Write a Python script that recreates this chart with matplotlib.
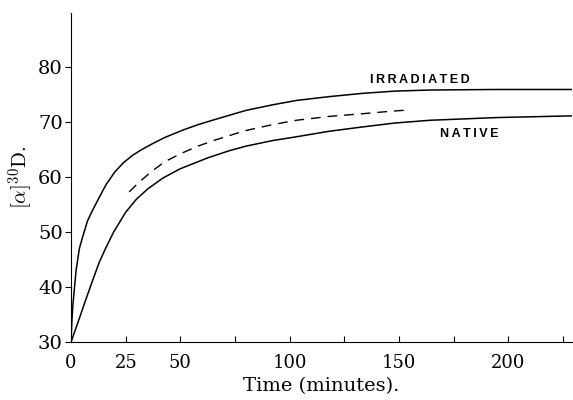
import matplotlib
matplotlib.use("Agg")
import matplotlib.pyplot as plt

plt.rcParams['mathtext.fontset'] = 'cm'
plt.rcParams['font.family'] = ['DejaVu Serif']

# readings
t_irr = [0, 0.4, 0.8, 1.5, 2.3, 3.8, 5.3, 7.5, 9.9, 12.9, 16, 20, 24, 28, 32, 37, 43, 51, 58,
         68, 80, 92, 103, 118, 133.5, 148, 164, 195, 229]
a_irr = [30, 34, 36.5, 39.6, 43.0, 47.0, 49.1, 52.0, 54.0, 56.3, 58.6, 60.9, 62.6, 63.9, 64.9,
         66.0, 67.2, 68.5, 69.5, 70.7, 72.1, 73.1, 73.9, 74.6, 75.2, 75.6, 75.8, 75.9, 75.9]

t_nat = [0, 3, 6.4, 9.5, 12.9, 16, 19.5, 25, 30, 35, 42, 50, 62.7, 72.6, 80, 92, 103, 118,
         133.5, 148, 164, 195, 229]
a_nat = [30, 33.4, 37.3, 40.8, 44.5, 47.2, 50.0, 53.6, 56.0, 57.8, 59.8, 61.5, 63.5, 64.8,
         65.6, 66.6, 67.3, 68.3, 69.1, 69.8, 70.3, 70.8, 71.1]

t_dash = [26.6, 31, 36.8, 43, 50.5, 58, 65.8, 79.5, 92, 103, 118, 133.5, 145, 155]
a_dash = [57.3, 59.0, 61.0, 62.8, 64.3, 65.6, 66.7, 68.4, 69.5, 70.3, 71.0, 71.5, 71.9, 72.2]

xticks = [0, 25, 50, 75, 100, 125, 150, 175, 200, 225]
xlabels = ['0', '25', '50', '', '100', '', '150', '', '200', '']
yticks = [30, 40, 50, 60, 70, 80]

fig = plt.figure(figsize=(5.73, 4.0), dpi=100)
ax = fig.add_axes([0.124, 0.145, 0.874, 0.8225])

ax.plot(t_irr, a_irr, color='black', lw=1.1)
ax.plot(t_nat, a_nat, color='black', lw=1.1)
ax.plot(t_dash, a_dash, color='black', lw=1.0, dashes=(7, 5))

ax.text(136.5, 77.0, '\u2009'.join('IRRADIATED'), family='Liberation Sans',
        fontsize=9, fontweight='bold', va='baseline', ha='left')
ax.text(168.5, 67.3, '\u2009'.join('NATIVE'), family='Liberation Sans',
        fontsize=9, fontweight='bold', va='baseline', ha='left')

ax.set_xlim(0, 229)
ax.set_ylim(30, 89.8)
ax.set_xticks(xticks)
ax.set_xticklabels(xlabels, fontsize=13)
ax.set_yticks(yticks)
ax.set_yticklabels([str(v) for v in yticks], fontsize=14)
ax.tick_params(axis='x', direction='in', length=4, pad=9)
ax.tick_params(axis='y', direction='out', length=4, pad=2)

for s in ['top', 'right']:
    ax.spines[s].set_visible(False)

ax.set_xlabel('Time (minutes).', fontsize=14, labelpad=3)
ax.set_ylabel(r'$[\alpha]^{30}\mathrm{D}.$', fontsize=15, labelpad=2)

fig.savefig('out.png', dpi=100)
